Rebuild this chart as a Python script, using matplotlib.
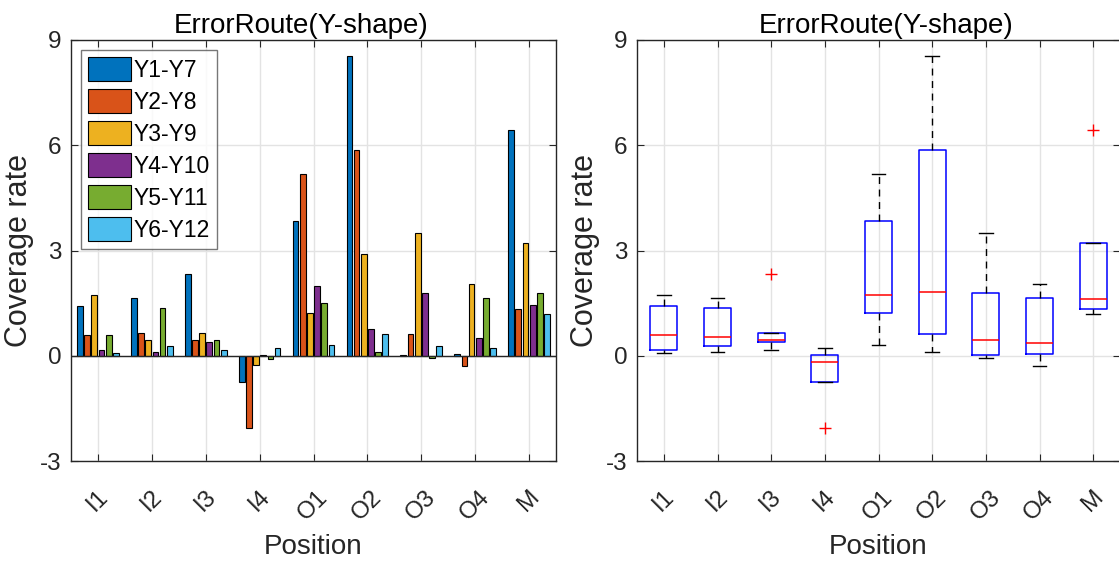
import matplotlib
matplotlib.use('Agg')
import matplotlib.pyplot as plt
import numpy as np

plt.rcParams['font.family'] = ['Liberation Sans', 'DejaVu Sans']

# data
positions = ['I1', 'I2', 'I3', 'I4', 'O1', 'O2', 'O3', 'O4', 'M']
series_names = ['Y1-Y7', 'Y2-Y8', 'Y3-Y9', 'Y4-Y10', 'Y5-Y11', 'Y6-Y12']
y1_y7 = [1.43, 1.64, 2.34, -0.75, 3.85, 8.55, 0.01, 0.05, 6.44]
y2_y8 = [0.59, 0.64, 0.46, -2.07, 5.17, 5.86, 0.61, -0.29, 1.32]
y3_y9 = [1.72, 0.44, 0.64, -0.26, 1.22, 2.89, 3.49, 2.04, 3.22]
y4_y10 = [0.15, 0.10, 0.39, 0.02, 1.98, 0.75, 1.79, 0.52, 1.46]
y5_y11 = [0.59, 1.37, 0.45, -0.08, 1.50, 0.12, -0.05, 1.66, 1.78]
y6_y12 = [0.07, 0.28, 0.15, 0.21, 0.30, 0.63, 0.29, 0.21, 1.18]
yticks = [-3, 0, 3, 6, 9]

all_series = [y1_y7, y2_y8, y3_y9, y4_y10, y5_y11, y6_y12]
colors = ['#0072BD', '#D95319', '#EDB120', '#7E2F8E', '#77AC30', '#4DBEEE']
axis_col = '#262626'
grid_col = '#e3e3e3'

fig = plt.figure(figsize=(11.19, 5.63), dpi=100)
ax1 = fig.add_axes([71 / 1119, 102 / 563, 485 / 1119, 421 / 563])
ax2 = fig.add_axes([637 / 1119, 102 / 563, 483 / 1119, 421 / 563])

x = np.arange(1, len(positions) + 1)


def style_axes(ax):
    ax.set_xlim(0.5, 9.5)
    ax.set_ylim(-3, 9)
    ax.set_yticks(yticks)
    ax.set_yticklabels([str(t) for t in yticks])
    ax.set_xticks(x)
    ax.set_xticklabels(positions, rotation=45, ha='center', va='top')
    ax.tick_params(direction='in', length=5, width=0.8, colors=axis_col,
                   top=True, right=True, labelsize=17.5)
    ax.tick_params(axis='x', pad=18)
    ax.tick_params(axis='y', pad=7)
    for s in ax.spines.values():
        s.set_color(axis_col)
        s.set_linewidth(1.0)
    ax.grid(True, color=grid_col, lw=1.0)
    ax.set_axisbelow(True)
    ax.set_xlabel('Position', fontsize=20, color=axis_col, labelpad=7)
    ax.set_ylabel('Coverage rate', fontsize=22, color=axis_col, labelpad=4)


# grouped bars
slot = 0.8 / len(all_series)
for i, (vals, name, c) in enumerate(zip(all_series, series_names, colors)):
    offset = (i - (len(all_series) - 1) / 2) * slot
    ax1.bar(x + offset, vals, width=slot * 0.8, color=c, edgecolor='black',
            linewidth=0.8, label=name, zorder=3)
ax1.axhline(0, color=axis_col, lw=1.0, zorder=4)
style_axes(ax1)
leg = ax1.legend(loc='upper left', fontsize=16.5, frameon=True, fancybox=False,
                 edgecolor='#555555', handlelength=1.85, handleheight=1.2,
                 handletextpad=0.15, labelspacing=0.33, borderpad=0.3,
                 borderaxespad=0.45)
leg.get_frame().set_linewidth(1.0)
ax1.set_title('ErrorRoute(Y-shape)', fontsize=20, x=0.474, pad=5)

# box plot (MATLAB-style quartiles)
data = np.array(all_series).T
stats = []
for row in data:
    q1, med, q3 = np.percentile(row, [25, 50, 75], method='hazen')
    iqr = q3 - q1
    lo_f, hi_f = q1 - 1.5 * iqr, q3 + 1.5 * iqr
    inside = row[(row >= lo_f) & (row <= hi_f)]
    stats.append(dict(med=med, q1=q1, q3=q3, whislo=inside.min(),
                      whishi=inside.max(),
                      fliers=row[(row < lo_f) | (row > hi_f)]))
ax2.bxp(stats, positions=x, widths=0.5, capwidths=0.25,
        boxprops=dict(color='blue', lw=1.1),
        medianprops=dict(color='red', lw=1.1),
        whiskerprops=dict(color='black', lw=1.0, linestyle=(0, (5, 4))),
        capprops=dict(color='black', lw=1.0),
        flierprops=dict(marker='+', markeredgecolor='red', markersize=8,
                        markeredgewidth=1.0))
style_axes(ax2)
ax2.set_title('ErrorRoute(Y-shape)', fontsize=20, x=0.515, pad=5)

fig.savefig('out.png', dpi=100)
